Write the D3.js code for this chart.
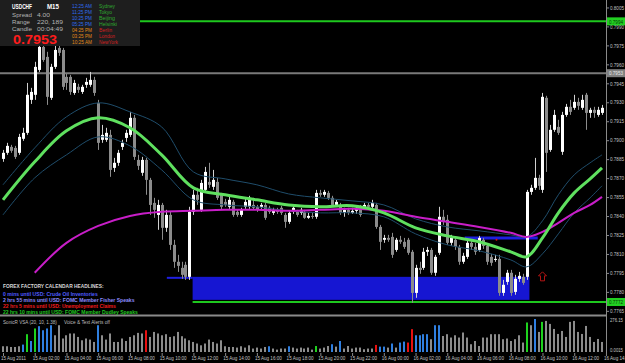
<!DOCTYPE html>
<html>
<head>
<meta charset="utf-8">
<title>USDCHF M15</title>
<script src="https://cdn.jsdelivr.net/npm/d3@7"></script>
<style>
	html, body { margin: 0; padding: 0; background: #000; overflow: hidden; }
	#canvas { width: 625px; height: 363px; }
	svg text { font-family: 'Liberation Sans', Arial, sans-serif; }
</style>
</head>
<body>
<div id="canvas"></div>
<script>
// USDCHF M15 candles, one per 15 minutes from 15 Aug 2011 00:00
const opens = [
	0.78852, 0.789, 0.78947, 0.78939, 0.789, 0.79011, 0.79058, 0.79319, 0.79359, 0.79556,
	0.79738, 0.79659, 0.79335, 0.7958, 0.7973, 0.79714, 0.79501, 0.79501, 0.79374, 0.79422,
	0.79382, 0.79438, 0.79438, 0.79477, 0.79295, 0.79003, 0.79003, 0.79042, 0.78781, 0.78821,
	0.78947, 0.79018, 0.79042, 0.79177, 0.78844, 0.78742, 0.78844, 0.78686, 0.78504, 0.78409,
	0.78488, 0.78307, 0.78409, 0.78172, 0.78038, 0.7799, 0.78014, 0.77919, 0.78433, 0.78568,
	0.78449, 0.78607, 0.7867, 0.78631, 0.7867, 0.78568, 0.78512, 0.78473, 0.78512, 0.78433,
	0.78409, 0.78473, 0.78473, 0.78488, 0.78473, 0.78473, 0.78488, 0.78465, 0.78425, 0.78449,
	0.78465, 0.78409, 0.78354, 0.78433, 0.78433, 0.78425, 0.78433, 0.78386, 0.78401, 0.78394,
	0.78583, 0.78568, 0.78583, 0.78544, 0.78488, 0.78488, 0.78425, 0.78449, 0.78425, 0.78441,
	0.78465, 0.78465, 0.78488, 0.78473, 0.78488, 0.78314, 0.78212, 0.78227, 0.78235, 0.78132,
	0.78212, 0.78196, 0.78212, 0.78117, 0.77792, 0.7799, 0.7799, 0.78117, 0.78132, 0.77951,
	0.78109, 0.78394, 0.7837, 0.78188, 0.78212, 0.78156, 0.78038, 0.78077, 0.78188, 0.78156,
	0.78132, 0.78212, 0.78164, 0.78077, 0.78053, 0.78061, 0.77792, 0.77879, 0.77951, 0.778,
	0.77903, 0.77919, 0.77919, 0.78591, 0.78623, 0.78702, 0.78607, 0.79335, 0.78923, 0.79082,
	0.79105, 0.78908, 0.792, 0.79264, 0.79256, 0.79303, 0.79256, 0.79359, 0.79216, 0.7924,
	0.792, 0.79216
];
const highs = [
	0.78923, 0.78979, 0.78963, 0.78955, 0.7905, 0.79098, 0.79453, 0.79414, 0.7962, 0.79794,
	0.79778, 0.79699, 0.79604, 0.79746, 0.79754, 0.7973, 0.79525, 0.79517, 0.79477, 0.79446,
	0.79438, 0.79493, 0.7954, 0.79501, 0.79319, 0.79121, 0.79098, 0.79082, 0.7886, 0.78923,
	0.79003, 0.79082, 0.79224, 0.792, 0.78884, 0.78868, 0.7886, 0.78702, 0.78544, 0.78528,
	0.78504, 0.78449, 0.78433, 0.78212, 0.78093, 0.78038, 0.78038, 0.78473, 0.78607, 0.78623,
	0.78686, 0.78789, 0.78821, 0.78765, 0.78702, 0.78583, 0.78536, 0.78552, 0.78528, 0.78449,
	0.78465, 0.78536, 0.7856, 0.78544, 0.78488, 0.78504, 0.78504, 0.78481, 0.78465, 0.78465,
	0.78481, 0.78425, 0.78441, 0.78481, 0.78449, 0.78465, 0.78449, 0.78425, 0.78425, 0.78607,
	0.78607, 0.78607, 0.78599, 0.7856, 0.78528, 0.78504, 0.78465, 0.78465, 0.78465, 0.78481,
	0.78488, 0.78504, 0.78504, 0.78528, 0.78504, 0.7833, 0.78251, 0.78251, 0.78267, 0.78227,
	0.78243, 0.78227, 0.78227, 0.78132, 0.78014, 0.78038, 0.78148, 0.78156, 0.78148, 0.78093,
	0.78473, 0.78449, 0.78409, 0.78251, 0.78227, 0.78172, 0.78109, 0.78212, 0.78212, 0.78188,
	0.78243, 0.78227, 0.7818, 0.78101, 0.78093, 0.78093, 0.77895, 0.77974, 0.77974, 0.77935,
	0.77958, 0.77943, 0.78607, 0.78647, 0.7886, 0.78726, 0.79374, 0.79351, 0.79121, 0.7924,
	0.79161, 0.79224, 0.79287, 0.79319, 0.79359, 0.79335, 0.79359, 0.79374, 0.79256, 0.79264,
	0.79264, 0.79279
];
const lows = [
	0.78829, 0.78884, 0.789, 0.78852, 0.78884, 0.78995, 0.79042, 0.79287, 0.79319, 0.7954,
	0.7962, 0.79279, 0.79319, 0.79564, 0.79667, 0.79398, 0.79398, 0.79359, 0.79359, 0.79374,
	0.79366, 0.79414, 0.79422, 0.79351, 0.78923, 0.78979, 0.78987, 0.7871, 0.78749, 0.78797,
	0.78923, 0.78987, 0.79026, 0.78844, 0.78765, 0.78718, 0.78568, 0.78409, 0.78386, 0.78291,
	0.78212, 0.78275, 0.78132, 0.7799, 0.77958, 0.77903, 0.77895, 0.77895, 0.78409, 0.78488,
	0.78433, 0.78591, 0.78623, 0.78607, 0.78528, 0.78449, 0.78473, 0.78457, 0.78394, 0.78394,
	0.78394, 0.78457, 0.78457, 0.78449, 0.78433, 0.78457, 0.7837, 0.78417, 0.78409, 0.78417,
	0.78409, 0.78307, 0.78338, 0.78417, 0.78394, 0.78409, 0.78378, 0.78378, 0.78378, 0.78378,
	0.78552, 0.78552, 0.78528, 0.78473, 0.78473, 0.78409, 0.78394, 0.78409, 0.78417, 0.78417,
	0.78394, 0.78449, 0.78449, 0.78457, 0.78299, 0.78132, 0.78188, 0.78196, 0.78069, 0.78117,
	0.7818, 0.7814, 0.78093, 0.77713, 0.77753, 0.77943, 0.77974, 0.78085, 0.77935, 0.77927,
	0.78093, 0.7833, 0.78172, 0.78164, 0.78132, 0.78014, 0.78022, 0.78061, 0.78132, 0.78093,
	0.78117, 0.7814, 0.78014, 0.78006, 0.78038, 0.77769, 0.77769, 0.77856, 0.77769, 0.77777,
	0.77879, 0.77856, 0.77895, 0.78568, 0.78607, 0.78607, 0.78583, 0.78749, 0.78908, 0.79066,
	0.79042, 0.78884, 0.79185, 0.792, 0.7924, 0.7924, 0.7924, 0.79082, 0.79177, 0.79177,
	0.79185, 0.792
];
const closes = [
	0.789, 0.78955, 0.78916, 0.78868, 0.79026, 0.79058, 0.79359, 0.79382, 0.7958, 0.79738,
	0.79635, 0.79343, 0.7958, 0.79714, 0.79691, 0.79422, 0.79453, 0.79382, 0.79453, 0.79398,
	0.79422, 0.79461, 0.79477, 0.79374, 0.78979, 0.79042, 0.79058, 0.78765, 0.78821, 0.789,
	0.78979, 0.79058, 0.79177, 0.78868, 0.78797, 0.78844, 0.78686, 0.78488, 0.78449, 0.78488,
	0.78307, 0.78409, 0.78172, 0.78038, 0.78006, 0.77935, 0.77919, 0.78433, 0.78568, 0.78528,
	0.78662, 0.78749, 0.78647, 0.78686, 0.78544, 0.78473, 0.78488, 0.78528, 0.78409, 0.78409,
	0.78449, 0.78512, 0.78544, 0.78465, 0.78449, 0.78488, 0.78386, 0.78433, 0.78449, 0.78433,
	0.78425, 0.78354, 0.78425, 0.78465, 0.78409, 0.78449, 0.78386, 0.78401, 0.78394, 0.78583,
	0.78568, 0.78591, 0.78544, 0.78488, 0.78512, 0.78425, 0.78449, 0.78425, 0.78441, 0.78465,
	0.78409, 0.78488, 0.78473, 0.78504, 0.78314, 0.78196, 0.78227, 0.78212, 0.78093, 0.78212,
	0.78196, 0.78156, 0.78109, 0.77792, 0.7799, 0.77974, 0.78117, 0.78132, 0.77951, 0.78077,
	0.78394, 0.78354, 0.78188, 0.78227, 0.78156, 0.78038, 0.78085, 0.78188, 0.78156, 0.78117,
	0.78227, 0.78164, 0.78038, 0.7803, 0.78061, 0.77792, 0.77856, 0.77951, 0.77792, 0.77903,
	0.77927, 0.77871, 0.78591, 0.78623, 0.78702, 0.78639, 0.79343, 0.789, 0.79082, 0.792,
	0.79058, 0.792, 0.79264, 0.79224, 0.79303, 0.79272, 0.79319, 0.79216, 0.7924, 0.79216,
	0.7924, 0.79256
];

// SonicR VSA volume (ticks) and bar colour code per candle
const volumes = [
	48, 48, 42, 42, 48, 62, 149, 92, 197, 216,
	182, 197, 224, 140, 224, 113, 140, 155, 155, 126,
	98, 113, 104, 84, 224, 140, 104, 155, 84, 84,
	113, 92, 126, 140, 160, 155, 182, 126, 168, 155,
	140, 149, 126, 132, 168, 132, 113, 98, 84, 71,
	56, 71, 104, 84, 71, 98, 48, 42, 42, 37,
	48, 37, 56, 29, 37, 29, 42, 48, 29, 20,
	29, 29, 48, 37, 29, 37, 29, 37, 20, 50,
	29, 37, 50, 65, 45, 92, 29, 50, 29, 37,
	37, 23, 29, 29, 59, 45, 45, 37, 71, 37,
	79, 87, 79, 191, 140, 140, 149, 149, 107, 224,
	224, 134, 149, 121, 140, 121, 163, 121, 65, 92,
	50, 121, 121, 149, 149, 149, 107, 113, 92, 107,
	140, 79, 247, 224, 276, 168, 252, 260, 235, 193,
	151, 176, 126, 252, 260, 168, 151, 218, 126, 84,
	109, 84
];
const volType = [
	'gggggbGbGb', 'bbbggggggg', 'ggggbggggg', 'ggggggrggg', 'gggggggggg',
	'gggggggggg', 'gggggggbgg', 'ggbggggggG', 'gggbgbgggg', 'ggggrbbgbg',
	'bbrrbbbbgb', 'bggggggggg', 'gggggggggg', 'ggGgbgGggg', 'gggggggggg', 'gg'
].join('').split('');
const volColors = { g: '#8c8c8c', b: '#2f7fe0', G: '#1ed21e', r: '#e81010' };

// indicator lines, read at these bar indices
const lineIdx = [0, 8, 16, 24, 32, 40, 48, 56, 64, 72, 80, 88, 96, 104, 112, 120, 128, 132, 136, 140, 144, 148, 151];
const maFast = [0.78528, 0.78829, 0.79074, 0.79177, 0.79098, 0.78884, 0.78623, 0.78568, 0.78528, 0.78488, 0.78473, 0.78481, 0.78425, 0.78307, 0.78243, 0.78196, 0.78117, 0.78077, 0.78227, 0.78425, 0.78583, 0.78694, 0.78781];
const maSlow = [null, 0.77951, 0.78188, 0.78322, 0.78401, 0.78433, 0.78441, 0.78449, 0.78449, 0.78441, 0.78449, 0.78457, 0.78441, 0.78394, 0.78354, 0.78314, 0.78267, 0.78235, 0.78275, 0.78346, 0.78425, 0.78488, 0.78552];
const bandUpper = [0.78647, 0.78939, 0.79185, 0.79295, 0.79224, 0.79105, 0.78749, 0.78694, 0.78647, 0.78575, 0.78544, 0.7852, 0.78488, 0.78378, 0.78314, 0.78283, 0.78251, 0.78235, 0.78362, 0.78568, 0.78726, 0.78821, 0.78884];
const bandLower = [0.78409, 0.78702, 0.78884, 0.79026, 0.78955, 0.78765, 0.78528, 0.78488, 0.78473, 0.78441, 0.78425, 0.78425, 0.78394, 0.78259, 0.78172, 0.78125, 0.78053, 0.77998, 0.78101, 0.78259, 0.78425, 0.78544, 0.78639];

const priceTicks = [0.8005, 0.799, 0.7975, 0.796, 0.7945, 0.793, 0.7915, 0.79, 0.7885, 0.787, 0.7855, 0.784, 0.7825, 0.781, 0.7795, 0.778, 0.7765];
const timeTickIdx = [0, 8, 16, 24, 32, 40, 48, 56, 64, 72, 80, 88, 96, 104, 112, 120, 128, 136, 144, 152];
const timeLabels = [
	'15 Aug 2011', '15 Aug 02:00', '15 Aug 04:00', '15 Aug 06:00', '15 Aug 08:00',
	'15 Aug 10:00', '15 Aug 12:00', '15 Aug 14:00', '15 Aug 16:00', '15 Aug 18:00',
	'15 Aug 20:00', '15 Aug 22:00', '16 Aug 00:00', '16 Aug 02:00', '16 Aug 04:00',
	'16 Aug 06:00', '16 Aug 08:00', '16 Aug 10:00', '16 Aug 12:00', '16 Aug 14:00'
];

// horizontal levels and the demand zone
const levelPrices = [0.7994, 0.7953, 0.7772];
const levelColors = ['#1ec81e', '#7a7a7a', '#1ec81e'];
const levelStart = [0, 0, 47.8];
const zoneBars = [47.8, 132.7];
const zonePrices = [0.77919, 0.77737];
const zoneLineBars = [41.3, 47.8];
const midLineBars = [116.4, 134.8];
const midLinePrice = 0.78227;
const arrowBar = 136;
const arrowPrice = 0.77919;

const sessions = [
	['12:25 AM', 'Sydney'], ['11:25 PM', 'Tokyo'], ['10:25 PM', 'Beijing'], ['05:25 PM', 'Helsinki'],
	['04:25 PM', 'Berlin'], ['03:25 PM', 'London'], ['10:25 AM', 'NewYork']
];
const headlines = [
	['0 mins until USD: Crude Oil Inventories', '#4f5cff', 95],
	['2 hrs 55 mins until USD: FOMC Member Fisher Speaks', '#8c8cff', 132],
	['22 hrs 5 mins until USD: Unemployment Claims', '#f01c1c', 113],
	['22 hrs 10 mins until USD: FOMC Member Dudley Speaks', '#22c822', 135]
];

drawChart();

// text squeezed to a given width with a horizontal scale, so its box is the drawn box
function fitText(parent, x, y, txt, opts) {
	const { size = 6, color = '#c4c4c4', bold = false, width = null } = opts;
	const t = parent.append('text')
		.attr('x', 0).attr('y', 0)
		.attr('fill', color)
		.style('font-size', size + 'px')
		.style('font-weight', bold ? 'bold' : 'normal')
		.text(txt);
	const natural = t.node().getComputedTextLength();
	const sx = width && natural ? width / natural : 1;
	t.attr('transform', `translate(${x},${y}) scale(${sx},1)`);
	return t;
}

function drawChart() {
	const right = 606;
	const mainBottom = 314;
	const fmt = d3.format('.4f');

	const xScale = d3.scaleLinear().domain([0, 151]).range([3, 602]);
	const yScale = d3.scaleLinear().domain([0.77625, 0.80109]).range([mainBottom, 0]);
	const vScale = d3.scaleLinear().domain([0, 276.15]).range([352, 319]);
	const px = i => Math.round(xScale(i));

	const svg = d3.select('#canvas').append('svg')
		.attr('width', 625).attr('height', 363)
		.style('background', '#000');

	svg.append('defs').append('clipPath').attr('id', 'mainClip')
		.append('rect').attr('x', 0).attr('y', 0).attr('width', right).attr('height', mainBottom);

	const main = svg.append('g').attr('clip-path', 'url(#mainClip)');

	// demand zone
	main.append('rect')
		.attr('x', xScale(zoneBars[0]))
		.attr('y', yScale(zonePrices[0]))
		.attr('width', xScale(zoneBars[1]) - xScale(zoneBars[0]))
		.attr('height', yScale(zonePrices[1]) - yScale(zonePrices[0]))
		.attr('fill', '#1616d2');
	main.append('line')
		.attr('x1', xScale(zoneLineBars[0])).attr('x2', xScale(zoneLineBars[1]))
		.attr('y1', yScale(zonePrices[0]) + 1).attr('y2', yScale(zonePrices[0]) + 1)
		.attr('stroke', '#1f1fe0').attr('stroke-width', 2);
	main.append('line')
		.attr('x1', xScale(midLineBars[0])).attr('x2', xScale(midLineBars[1]))
		.attr('y1', yScale(midLinePrice)).attr('y2', yScale(midLinePrice))
		.attr('stroke', '#1f1fe0').attr('stroke-width', 3);

	// horizontal levels
	main.selectAll('line.level').data(levelPrices).join('line')
		.attr('class', 'level')
		.attr('x1', (d, i) => xScale(levelStart[i]) - (i < 2 ? 3 : 0)).attr('x2', right)
		.attr('y1', d => yScale(d)).attr('y2', d => yScale(d))
		.attr('stroke', (d, i) => levelColors[i]).attr('stroke-width', 2);

	// candles
	const candles = opens.map((o, i) => ({ i, o, h: highs[i], l: lows[i], c: closes[i] }));
	main.append('g').selectAll('line').data(candles).join('line')
		.attr('x1', d => px(d.i) + 0.5).attr('x2', d => px(d.i) + 0.5)
		.attr('y1', d => yScale(d.h)).attr('y2', d => yScale(d.l))
		.attr('stroke', d => (d.c >= d.o ? '#d0d0d0' : '#8c8c8c'));
	main.append('g').selectAll('rect').data(candles).join('rect')
		.attr('x', d => px(d.i) - 1).attr('width', 3)
		.attr('y', d => yScale(Math.max(d.o, d.c)))
		.attr('height', d => Math.max(1, Math.abs(yScale(d.o) - yScale(d.c))))
		.attr('fill', d => (d.c >= d.o ? '#ffffff' : '#8c8c8c'));

	// indicator lines
	const pts = vals => lineIdx.map((i, k) => ({ i, v: vals[k] }));
	const lineGen = d3.line()
		.defined(d => d.v != null)
		.x(d => xScale(d.i))
		.y(d => yScale(d.v))
		.curve(d3.curveCatmullRom.alpha(0.5));

	[bandUpper, bandLower].forEach(vals => {
		main.append('path').attr('d', lineGen(pts(vals)))
			.attr('fill', 'none').attr('stroke', '#1f4d6b').attr('stroke-width', 1);
	});
	main.append('path').attr('d', lineGen(pts(maSlow)))
		.attr('fill', 'none').attr('stroke', '#c81ec8').attr('stroke-width', 2);
	main.append('path').attr('d', lineGen(pts(maFast)))
		.attr('fill', 'none').attr('stroke', '#5fe05f').attr('stroke-width', 3);

	// arrow and marker
	const ax = xScale(arrowBar);
	const ay = yScale(arrowPrice);
	main.append('path')
		.attr('d', `M${ax},${ay - 5}L${ax + 4},${ay - 1}L${ax + 2},${ay - 1}L${ax + 2},${ay + 4}L${ax - 2},${ay + 4}L${ax - 2},${ay - 1}L${ax - 4},${ay - 1}Z`)
		.attr('fill', 'none').attr('stroke', '#b41414');
	main.append('circle').attr('cx', xScale(124.4)).attr('cy', yScale(0.78212)).attr('r', 1).attr('fill', '#e01010');

	// panel separator and axis line
	svg.append('line').attr('x1', 0).attr('x2', right).attr('y1', 315.5).attr('y2', 315.5)
		.attr('stroke', '#8a8a8a').attr('stroke-width', 2);
	svg.append('line').attr('x1', right + 0.5).attr('x2', right + 0.5).attr('y1', 0).attr('y2', 353)
		.attr('stroke', '#8a8a8a');

	// volume panel
	svg.append('g').selectAll('rect').data(volumes).join('rect')
		.attr('x', (d, i) => px(i) - 1).attr('width', 2)
		.attr('y', d => vScale(d))
		.attr('height', d => vScale(0) - vScale(d))
		.attr('fill', (d, i) => volColors[volType[i]]);

	// price axis: ticks from d3, labels squeezed to the narrow MT4 look
	const yAxis = svg.append('g').attr('transform', `translate(${right},0)`)
		.call(d3.axisRight(yScale).tickValues(priceTicks).tickFormat('').tickSize(3));
	yAxis.select('.domain').remove();
	yAxis.selectAll('line').attr('stroke', '#8a8a8a');
	const yLabels = svg.append('g');
	priceTicks.forEach(p => fitText(yLabels, 610, yScale(p) + 2.2, fmt(p), { size: 6, width: 14 }));

	// level tags on the axis
	levelPrices.forEach((p, i) => {
		const ly = yScale(p);
		svg.append('rect').attr('x', right + 1).attr('y', ly - 4).attr('width', 18).attr('height', 8)
			.attr('fill', i === 1 ? '#808080' : '#22d022');
		fitText(svg, right + 3, ly + 2.2, fmt(p), { size: 6, width: 14, color: i === 1 ? '#e8e8e8' : '#063806' });
	});

	// volume scale labels
	fitText(svg, 610, 322, '276.15', { size: 6, width: 13 });
	fitText(svg, 610, 352, '0.0015', { size: 6, width: 13 });

	// time axis
	const xAxis = svg.append('g').attr('transform', 'translate(0,353)')
		.call(d3.axisBottom(xScale).tickValues(timeTickIdx).tickFormat('').tickSize(3));
	xAxis.select('.domain').remove();
	xAxis.selectAll('line').attr('stroke', '#8a8a8a');
	const xLabels = svg.append('g');
	timeTickIdx.forEach((idx, k) =>
		fitText(xLabels, xScale(idx) - 2, 360, timeLabels[k], { size: 5.5, width: k === 0 ? 25 : 27 }));

	// indicator captions
	fitText(svg, 3, 288, 'FOREX FACTORY CALENDAR HEADLINES:', { size: 6, bold: true, color: '#d8d8d8', width: 101 });
	headlines.forEach(([txt, col, len], k) =>
		fitText(svg, 3, 295.5 + k * 6, txt, { size: 6, bold: true, color: col, width: len }));
	fitText(svg, 3, 324, 'SonicR VSA (20, 10, 1.38)', { size: 6, color: '#bdbdbd', width: 54 });
	fitText(svg, 64, 324, 'Voice & Text Alerts off', { size: 6, color: '#bdbdbd', width: 46 });

	// info panel
	const info = svg.append('g');
	info.append('rect').attr('x', 0).attr('y', 0).attr('width', 140).attr('height', 46).attr('fill', '#1e1e1e');
	fitText(info, 12, 9, 'USDCHF', { size: 7, bold: true, color: '#ffffff', width: 20 });
	fitText(info, 47, 9, 'M15', { size: 7, bold: true, color: '#ffffff', width: 12 });
	fitText(info, 12, 16.5, 'Spread', { size: 6, color: '#b4b4b4', width: 20 });
	fitText(info, 37, 16.5, '4.00', { size: 6, color: '#b4b4b4', width: 13 });
	fitText(info, 12, 23.5, 'Range', { size: 6, color: '#b4b4b4', width: 18 });
	fitText(info, 37, 23.5, '220, 189', { size: 6, color: '#b4b4b4', width: 26 });
	fitText(info, 12, 30.5, 'Candle', { size: 6, color: '#b4b4b4', width: 20 });
	fitText(info, 37, 30.5, '00:04:49', { size: 6, color: '#b4b4b4', width: 26 });
	fitText(info, 13, 44, '0.7953', { size: 13.5, bold: true, color: '#ff1c1c', width: 44 });
	const cityLen = [16, 13, 16, 18, 13, 16, 19];
	sessions.forEach(([t, city], k) => {
		const yy = 8 + k * 6;
		fitText(info, 72, yy, t, { size: 5.5, color: k < 4 ? '#2f6cf0' : '#e08a1a', width: 20 });
		fitText(info, 99, yy, city, { size: 5.5, color: k < 4 ? '#2eaa2e' : '#d02020', width: cityLen[k] });
	});
}
</script>
</body>
</html>
